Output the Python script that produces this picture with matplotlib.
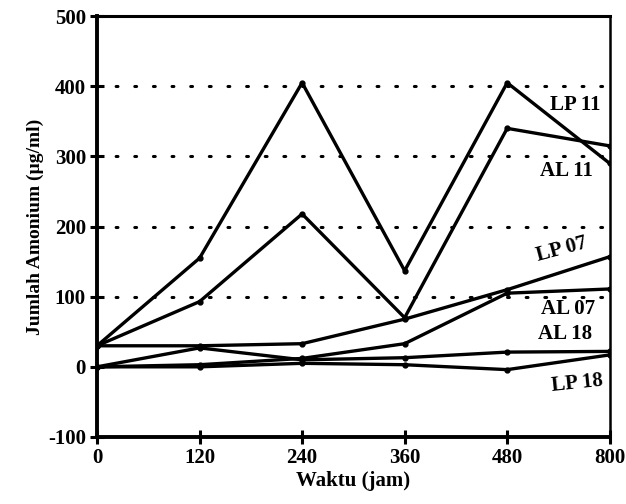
import matplotlib
matplotlib.use("Agg")
import matplotlib.pyplot as plt
import numpy as np

# Data (x is categorical: equally spaced)
waktu = ["0", "120", "240", "360", "480", "800"]
lp11 = [30, 155, 405, 137, 405, 290]
al11 = [30, 93, 218, 70, 340, 315]
lp07 = [30, 30, 33, 68, 110, 157]
al07 = [0, 3, 12, 33, 105, 111]
al18 = [0, 27, 10, 13, 21, 22]
lp18 = [0, 0, 5, 3, -4, 17]

plt.rcParams["font.family"] = ["Liberation Serif", "DejaVu Serif"]
plt.rcParams["font.weight"] = "bold"
plt.rcParams["axes.unicode_minus"] = False

fig = plt.figure(figsize=(6.26, 5.04), dpi=100)
ax = fig.add_axes([0.155, 0.133, 0.819, 0.835])

x = np.arange(len(waktu))
for serie in (lp11, al11, lp07, al07, al18, lp18):
    ax.plot(x, serie, "-o", color="black", lw=2.4, ms=3.5)

# dotted horizontal grid
for yv in (100, 200, 300, 400):
    ax.axhline(yv, color="black", ls=(0, (0.6, 5.5)), lw=2.2, zorder=0,
               dash_capstyle="round")

ax.set_xlim(0, 5)
ax.set_ylim(-100, 500)
ax.set_xticks(x)
ax.set_xticklabels(waktu)
ax.set_yticks([-100, 0, 100, 200, 300, 400, 500])
ax.tick_params(direction="inout", length=10, width=2.2, labelsize=15, pad=3)
for lab in ax.get_xticklabels() + ax.get_yticklabels():
    lab.set_fontweight("bold")

for side in ("left", "bottom"):
    ax.spines[side].set_linewidth(2.8)
ax.spines["top"].set_linewidth(2.2)
ax.spines["right"].set_linewidth(1.8)

ax.set_xlabel("Waktu (jam)", fontsize=15, fontweight="bold", labelpad=2)
ax.set_ylabel("Jumlah Amonium (µg/ml)", fontsize=14, fontweight="bold", labelpad=3)

# series labels
lbl = dict(fontsize=15, fontweight="bold", ha="center", va="center")
ax.text(4.66, 374, "LP 11", **lbl)
ax.text(4.58, 279, "AL 11", **lbl)
ax.text(4.53, 168, "LP 07", rotation=15, **lbl)
ax.text(4.59, 83, "AL 07", **lbl)
ax.text(4.56, 47, "AL 18", **lbl)
ax.text(4.68, -24, "LP 18", rotation=6, **lbl)

fig.savefig("out.png", dpi=100)
